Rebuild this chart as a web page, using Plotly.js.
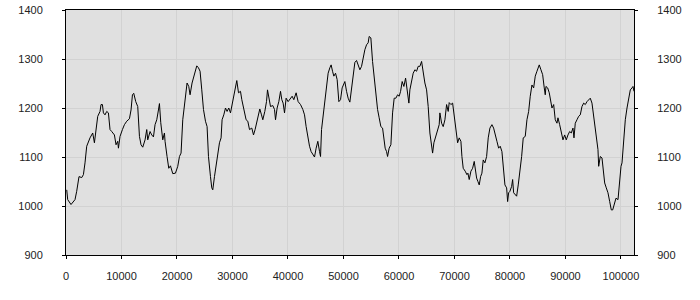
<!DOCTYPE html>
<html>
<head>
<meta charset="utf-8">
<script src="https://cdn.plot.ly/plotly-3.0.1.min.js"></script>
<style>html,body{margin:0;padding:0;background:#fff;}#chart{width:700px;height:300px;}</style>
</head>
<body>
<div id="chart"></div>
<script>
var xValues = [130,307,902,1623,1929,2344,2831,3137,3426,3732,4327,4814,5121,5409,5716,6130,6311,6563,6743,7032,7338,7645,7933,8240,8726,9015,9321,9448,9736,10169,10530,10944,11431,11720,11972,12206,12567,12927,13234,13523,13829,14244,14550,14730,15145,15452,15758,16047,16353,16660,16840,17074,17435,17741,17849,18210,18516,18823,19238,19724,20139,20445,20734,21040,21455,21816,22122,22357,22717,23150,23565,23871,24160,24466,24773,25134,25422,25675,25855,26035,26270,26450,26757,27045,27352,27658,27947,28127,28433,28740,29028,29335,29641,29875,30236,30543,30777,31084,31444,31679,32039,32454,32760,33067,33482,33788,34076,34437,34924,35230,35465,35825,36132,36312,36547,36853,37268,37574,37755,38043,38350,38656,38890,39125,39377,39666,40027,40459,40748,41054,41469,41830,42262,42677,42984,43272,43579,43885,44174,44480,44786,45075,45381,45688,45868,46048,46337,46643,46950,47238,47545,47779,48031,48266,48572,48861,49167,49473,49762,50249,50555,50843,51150,51457,51745,52052,52358,52647,52953,53260,53548,53855,54161,54450,54630,54936,55243,55532,55838,56145,56433,56740,57046,57335,57515,57767,57948,58236,58543,58849,59138,59444,59751,60039,60292,60580,60887,61193,61482,61788,61968,62275,62563,62870,63176,63465,63771,64078,64366,64673,64979,65268,65574,65881,66061,66295,66602,66963,67251,67377,67684,67972,68279,68585,68874,69054,69360,69667,69955,70262,70568,70857,71163,71343,71578,71938,72245,72425,72660,72966,73273,73561,73742,73994,74228,74462,74715,74949,75183,75490,75796,76085,76391,76752,77058,77347,77653,77960,78248,78555,78789,79096,79402,79582,79763,79997,80304,80484,80664,80953,81205,81494,81800,82107,82395,82756,83062,83369,83657,83964,84270,84559,84865,85280,85586,85893,86181,86362,86488,86795,87083,87390,87570,87877,88165,88472,88652,88958,89247,89553,89860,90148,90455,90761,91050,91356,91537,91771,92077,92384,92672,92979,93285,93574,93880,94187,94475,94782,95088,95377,95683,95863,95990,96278,96585,96891,97071,97360,97666,97973,98261,98514,98802,99109,99470,99704,100011,100191,100498,100786,101093,101399,101688,101994,102174,102354];
var yValues = [1033,1013,1003,1013,1030,1060,1058,1064,1088,1122,1139,1149,1129,1155,1183,1193,1207,1207,1190,1186,1193,1190,1156,1152,1145,1125,1132,1118,1142,1156,1166,1173,1178,1196,1227,1230,1213,1203,1142,1125,1120,1135,1156,1135,1152,1145,1141,1166,1176,1196,1209,1170,1135,1149,1132,1101,1077,1082,1066,1067,1081,1101,1108,1176,1224,1251,1244,1227,1251,1271,1286,1282,1275,1237,1197,1173,1162,1101,1071,1060,1037,1033,1060,1081,1101,1129,1139,1176,1186,1200,1193,1200,1190,1203,1224,1244,1256,1231,1234,1217,1200,1176,1173,1156,1159,1145,1156,1173,1198,1186,1176,1193,1213,1237,1220,1203,1205,1197,1176,1200,1213,1234,1217,1210,1190,1220,1213,1220,1224,1217,1231,1213,1207,1197,1186,1162,1139,1122,1111,1105,1100,1118,1132,1111,1101,1156,1186,1207,1251,1271,1282,1288,1275,1265,1271,1258,1213,1217,1241,1254,1234,1220,1212,1240,1268,1293,1297,1285,1278,1285,1305,1319,1329,1333,1346,1343,1295,1258,1224,1197,1180,1162,1159,1135,1118,1111,1101,1118,1125,1190,1220,1220,1227,1224,1234,1254,1244,1261,1237,1210,1237,1258,1271,1278,1275,1285,1285,1295,1271,1251,1237,1203,1149,1125,1108,1129,1142,1159,1166,1190,1169,1162,1176,1207,1193,1211,1207,1210,1183,1159,1129,1139,1132,1101,1077,1071,1064,1067,1054,1071,1077,1091,1077,1057,1050,1043,1060,1067,1094,1088,1101,1139,1159,1166,1159,1142,1132,1118,1122,1111,1077,1043,1037,1009,1027,1030,1040,1054,1027,1023,1020,1043,1067,1101,1139,1142,1176,1193,1224,1247,1241,1265,1275,1288,1278,1268,1241,1227,1244,1241,1231,1207,1200,1207,1176,1169,1180,1166,1152,1135,1145,1135,1145,1152,1149,1159,1139,1169,1176,1183,1186,1203,1210,1207,1213,1217,1220,1210,1186,1162,1135,1115,1081,1101,1098,1071,1047,1037,1027,1009,992,992,1006,1016,1013,1047,1081,1088,1135,1176,1200,1217,1237,1241,1244,1234];
var xTicks = [0,10000,20000,30000,40000,50000,60000,70000,80000,90000,100000];
var yTicks = [900,1000,1100,1200,1300,1400];

var tickFont = {family: "Liberation Sans, Arial, sans-serif", size: 11, color: "#222"};
var traces = [
  {x: xValues, y: yValues, type: "scatter", mode: "lines", line: {color: "#000", width: 1}, hoverinfo: "skip", showlegend: false},
  {x: xValues, y: yValues, type: "scatter", mode: "lines", yaxis: "y2", line: {color: "rgba(0,0,0,0)", width: 1}, hoverinfo: "skip", showlegend: false}
];
var yCommon = {
  range: [900, 1400], tickvals: yTicks, ticktext: yTicks.map(String),
  showgrid: true, gridcolor: "#d2d2d2", gridwidth: 1, zeroline: false,
  showline: true, linecolor: "#000", linewidth: 1,
  ticks: "outside", ticklen: 3, tickcolor: "#000", tickfont: tickFont, ticklabelstandoff: 17
};
var layout = {
  width: 700, height: 300,
  margin: {l: 66, r: 66, t: 10, b: 45, pad: 0},
  paper_bgcolor: "#fff", plot_bgcolor: "#e0e0e0",
  showlegend: false,
  xaxis: {
    range: [0, 102354], tickvals: xTicks, ticktext: xTicks.map(String),
    showgrid: true, gridcolor: "#d2d2d2", gridwidth: 1, zeroline: false,
    showline: true, linecolor: "#000", linewidth: 1, mirror: true,
    ticks: "outside", ticklen: 3, tickcolor: "#000", tickfont: tickFont, ticklabelstandoff: 8
  },
  yaxis: Object.assign({}, yCommon, {side: "left"}),
  yaxis2: Object.assign({}, yCommon, {side: "right", overlaying: "y", showgrid: false})
};
Plotly.newPlot("chart", traces, layout, {staticPlot: true, displayModeBar: false});
</script>
</body>
</html>
